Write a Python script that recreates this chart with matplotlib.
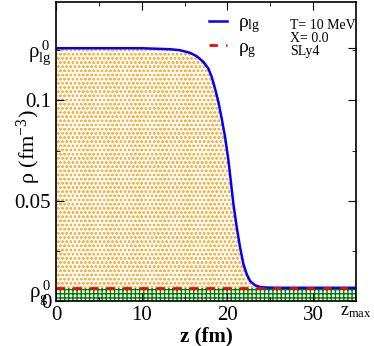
import matplotlib
matplotlib.use("Agg")
import matplotlib.pyplot as plt
import numpy as np

plt.rcParams['font.family'] = ['Liberation Serif', 'DejaVu Serif']
plt.rcParams['mathtext.fontset'] = 'custom'
plt.rcParams['mathtext.rm'] = 'Liberation Serif'
plt.rcParams['mathtext.it'] = 'Liberation Serif'
plt.rcParams['mathtext.bf'] = 'Liberation Serif:bold'

## data
z = [0, 5, 10, 13.3, 14.47, 15.63, 16.41, 17.19, 17.77, 18.16, 18.55, 18.94, 19.33,
     19.72, 20.11, 20.38, 20.69, 21.08, 21.47, 21.86, 22.25, 22.63, 23.22, 23.8,
     24.58, 26, 30, 35]
rho_lg = [0.126, 0.126, 0.126, 0.1255, 0.125, 0.1237, 0.122, 0.1192, 0.1158, 0.1117,
          0.1058, 0.0992, 0.0908, 0.0817, 0.070, 0.060, 0.0483, 0.0367, 0.0267, 0.0183,
          0.0133, 0.010, 0.0078, 0.0070, 0.0067, 0.0066, 0.0066, 0.0066]
rho_g0 = 0.0066
rho_lg0 = 0.126
z_max = 35

z_ticks = [0, 10, 20, 30]
y_ticks = [0, rho_g0, 0.05, 0.1, rho_lg0]
y_ticklabels = ['0', r'$\rho_{\rm g}^{\,0}$', '0.05', '0.1', r'$\rho_{\rm lg}^{\,0}$']

fig = plt.figure(figsize=(3.74, 3.46), dpi=100)
ax = fig.add_axes([0.150, 0.130, 0.802, 0.864])

z = np.array(z)
rho_lg = np.array(rho_lg)
g = np.full_like(z, rho_g0)

# hatched regions
plt.rcParams['hatch.linewidth'] = 0.6
ax.fill_between(z, g, rho_lg, facecolor='white', edgecolor='#ffb040', hatch='oooo', linewidth=0)
plt.rcParams['hatch.linewidth'] = 1.0
ax.fill_between(z, 0, g, facecolor='white', edgecolor='#007a00', hatch='++++', linewidth=0)

ax.plot(z, rho_lg, color='#0000ff', lw=1.8, label=r'$\rho_{\rm lg}$')
ax.plot(z, g, color='#ff0000', lw=2, ls=(0, (3, 3)), label=r'$\rho_{\rm g}$')

ax.set_xlim(0, 35)
ax.set_ylim(0, 0.149)
ax.set_xticks(z_ticks)
ax.set_xticks([5, 15, 25], minor=True)
ax.set_yticks(y_ticks)
ax.set_yticklabels(y_ticklabels)
ax.set_yticks([0.025, 0.075, 0.125], minor=True)
ax.tick_params(which='both', direction='in', top=True, right=True, labelsize=15)
ax.tick_params(which='major', length=6)
ax.tick_params(which='minor', length=3)
for s in ax.spines.values():
    s.set_linewidth(1.2)

ax.set_xlabel('z (fm)', fontsize=15, fontweight='bold', labelpad=1)
ax.set_ylabel(r'$\rho$ (fm$^{-3}$)', fontsize=16)
ax.yaxis.set_label_coords(-0.045, 0.515)

ax.text(z_max, -0.001, r'z$_{\rm max}$', fontsize=13, ha='center', va='top')

ax.legend(loc='upper left', bbox_to_anchor=(0.51, 0.96), frameon=False, fontsize=14,
          handlelength=0.9, handletextpad=0.6, labelspacing=0.15, borderpad=0,
          borderaxespad=0)
ax.text(0.78, 0.945, 'T= 10 MeV\nX= 0.0\nSLy4', transform=ax.transAxes, fontsize=10,
        va='top', ha='left', linespacing=1.0)

fig.savefig('out.png', dpi=100)
